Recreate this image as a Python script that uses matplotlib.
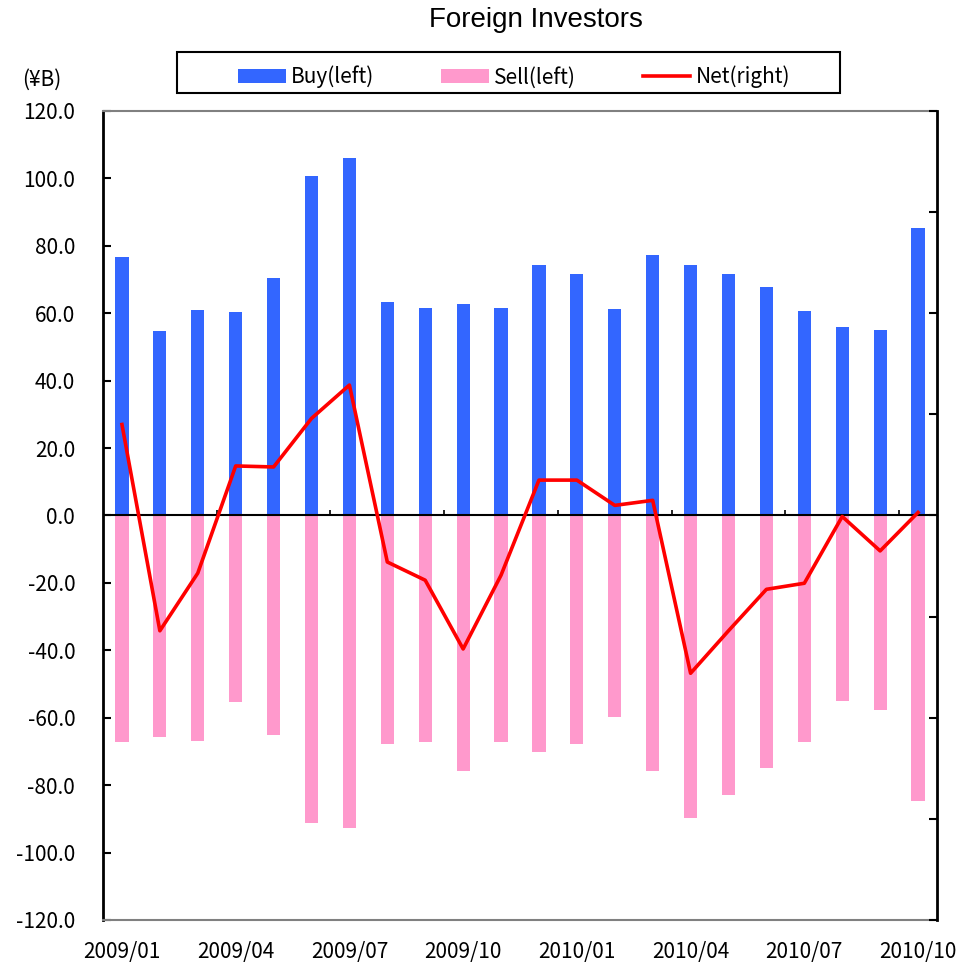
import numpy as np
import matplotlib
matplotlib.use("Agg")
import matplotlib.pyplot as plt
from matplotlib.patches import Rectangle

plt.rcParams['font.family'] = ['Noto Sans CJK JP', 'DejaVu Sans']

# monthly foreign investor flows, 2009/01 - 2010/10 (¥B)
months = ['2009/01', '2009/02', '2009/03', '2009/04', '2009/05', '2009/06',
          '2009/07', '2009/08', '2009/09', '2009/10', '2009/11', '2009/12',
          '2010/01', '2010/02', '2010/03', '2010/04', '2010/05', '2010/06',
          '2010/07', '2010/08', '2010/09', '2010/10']
buy = [76.8, 54.8, 61.1, 60.5, 70.4, 100.6, 106.2, 63.4, 61.6, 62.8, 61.6,
       74.2, 71.5, 61.4, 77.4, 74.2, 71.5, 67.7, 60.8, 55.8, 54.9, 85.2]
sell = [-67.3, -65.8, -67.0, -55.4, -65.2, -91.1, -92.8, -67.9, -67.3, -75.9,
        -67.3, -70.3, -67.9, -59.9, -75.9, -89.6, -83.0, -75.0, -67.3, -55.1,
        -57.8, -84.8]
net = [9.0, -11.4, -5.7, 4.9, 4.8, 9.6, 12.9, -4.6, -6.4, -13.2, -5.9,
       3.5, 3.5, 1.0, 1.5, -15.6, -11.4, -7.3, -6.7, -0.1, -3.5, 0.3]

x = np.arange(len(months))
label_idx = list(range(0, len(months), 3))

fig = plt.figure(figsize=(9.59, 9.66), dpi=100)
ax = fig.add_axes([103/959, 1 - 920/966, (937-103)/959, (920-111)/966])
ax2 = ax.twinx()

b1 = ax.bar(x, buy, width=0.35, color='#3366FF', label='Buy(left)')
b2 = ax.bar(x, sell, width=0.35, color='#FF99CC', label='Sell(left)')
ax.axhline(0, color='black', lw=1.5, zorder=3)
# small category ticks along the zero line
ax.vlines(np.arange(2.5, len(months), 3), 0, 1.6, color='black', lw=1.2, zorder=3)

ln, = ax2.plot(x, net, color='#FF0000', lw=2.6, label='Net(right)')

ax.set_xlim(-0.5, len(months) - 0.5)
ax.set_ylim(-120, 120)
ax.set_yticks(np.arange(-120, 121, 20))
ax.set_yticklabels(['%.1f' % v for v in np.arange(-120, 121, 20)])
ax.tick_params(axis='y', direction='in', length=6, width=1.5, pad=20, labelsize=15)
ax.set_xticks(label_idx)
ax.set_xticklabels([months[i] for i in label_idx])
ax.tick_params(axis='x', length=0, pad=15, labelsize=15)

ax2.set_ylim(-40, 40)
ax2.set_yticks(np.arange(-40, 41, 10))
ax2.tick_params(axis='y', direction='in', length=6, width=1.5, labelright=False)

for s in ['top', 'bottom']:
    ax.spines[s].set_color('#808080')
    ax.spines[s].set_linewidth(1.5)
ax.spines['left'].set_linewidth(2)
ax.spines['right'].set_visible(False)
for s in ['top', 'bottom', 'left']:
    ax2.spines[s].set_visible(False)
ax2.spines['right'].set_linewidth(2)

fig.text(536/959, 1 - 20/966, 'Foreign Investors', ha='center', va='center',
         fontsize=20, family=['Liberation Sans', 'DejaVu Sans'])
fig.text(22/959, 1 - 80/966, '(¥B)', ha='left', va='center', fontsize=15)

# legend box across the top
fig.patches.append(Rectangle((177/959, 1 - 93/966), (840-177)/959, 41/966,
                             transform=fig.transFigure, fill=False,
                             edgecolor='black', lw=1.5))
fig.legend([b1, b2, ln], ['Buy(left)', 'Sell(left)', 'Net(right)'],
           loc='center', bbox_to_anchor=(514/959, 1 - 77/966), ncol=3,
           frameon=False, fontsize=15, handlelength=2.3, handleheight=0.6,
           handletextpad=0.25, columnspacing=3.2)

fig.savefig('out.png', dpi=100)
